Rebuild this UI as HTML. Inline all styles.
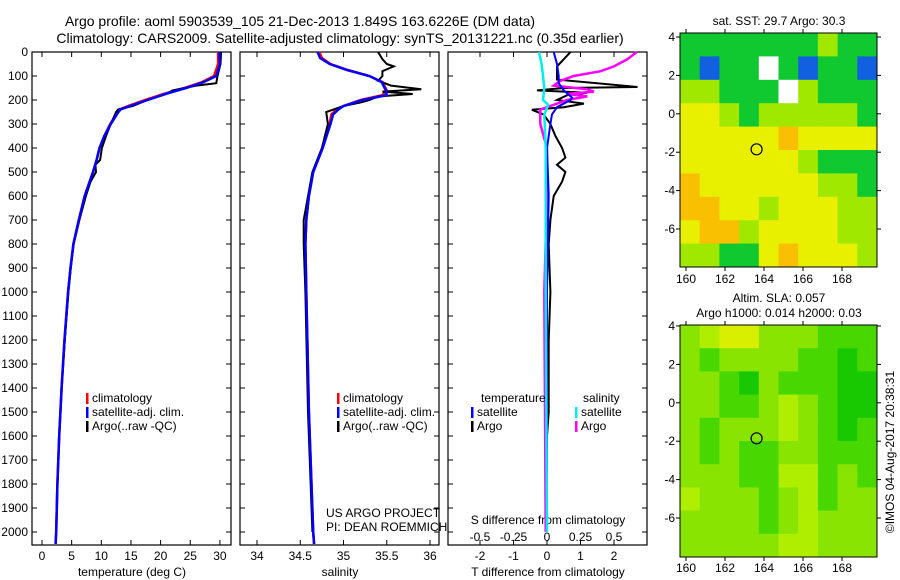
<!DOCTYPE html>
<html><head><meta charset="utf-8">
<style>
body{margin:0;background:#fff;}
svg{display:block;font-family:"Liberation Sans",sans-serif;}
text{font-size:12px;fill:#000;}
</style></head>
<body>
<svg id="c" width="900" height="580" xmlns="http://www.w3.org/2000/svg">
<text x="300" y="26" text-anchor="middle" style="font-size:14px">Argo profile: aoml 5903539_105 21-Dec-2013 1.849S 163.6226E (DM data)</text>
<text x="340" y="43" text-anchor="middle" style="font-size:14px">Climatology: CARS2009. Satellite-adjusted climatology: synTS_20131221.nc (0.35d earlier)</text>
<g id="g"></g>
</svg>
<script>
// ---- data ----
const depthTicks=[0,100,200,300,400,500,600,700,800,900,1000,1100,1200,1300,1400,1500,1600,1700,1800,1900,2000];
const tempTicks=[0,5,10,15,20,25,30];
const salTicks=[34,34.5,35,35.5,36];
const tdTicks=[-2,-1,0,1,2];
const sdTicks=[-0.5,-0.25,0,0.25,0.5];
const tClimD=[0,50,100,125,150,175,200,225,240,250,300,350,400,450,500,600,700,800,900,1000,1200,1400,1600,1800,2000,2050];
const tClim=[29.7,29.7,29,27,24,20.5,17.4,14.5,13,12.8,11.5,10.5,9.7,9.2,8.6,7.2,6.2,5.3,4.8,4.4,3.8,3.3,2.9,2.6,2.4,2.3];
const tSat=[29.9,30,29.4,27.3,24.3,20.8,17.8,14.8,13.2,12.9,11.6,10.5,9.7,9.2,8.6,7.2,6.2,5.3,4.8,4.4,3.8,3.3,2.9,2.6,2.4,2.3];
const tArgoD=[0,50,100,130,140,160,175,200,225,240,250,300,350,400,450,470,500,540,600,700,800,900,1000,1200,1400,1600,1800,2000];
const tArgo=[30.2,30.1,29.6,29.4,26,22,21,17.8,15.3,12.8,12.5,11.6,10.8,10.1,9.8,9,9.1,8.2,7.4,6.3,5.35,4.85,4.45,3.85,3.3,2.9,2.6,2.4];
const sClimD=[0,25,50,75,100,125,160,180,200,225,240,260,300,400,500,600,700,800,1000,1500,2000,2050];
const sClim=[34.72,34.75,34.85,35.05,35.3,35.45,35.5,35.45,35.2,35.0,34.92,34.86,34.84,34.76,34.65,34.6,34.57,34.56,34.57,34.6,34.65,34.66];
const sSat=[34.7,34.73,34.84,35.04,35.3,35.44,35.49,35.5,35.22,35.0,34.94,34.88,34.85,34.76,34.65,34.6,34.57,34.56,34.57,34.6,34.65,34.66];
const sArgoD=[0,30,50,60,80,100,120,140,155,165,175,185,200,210,225,250,300,400,500,700,800,1000,1500,2000];
const sArgo=[35.4,35.45,35.5,35.58,35.45,35.45,35.4,35.55,35.9,35.45,35.8,35.4,35.3,35.2,35.0,34.8,34.82,34.75,34.64,34.54,34.54,34.56,34.59,34.64];
const tdSatD=[0,50,100,130,160,190,200,230,260,300,400,600,1000,2000];
const tdSat=[0.2,0.3,0.35,0.35,0.5,0.75,0.7,0.3,0.15,0.1,0.0,0.05,0.0,0.0];
const tdArgoD=[0,30,60,100,115,130,146,150,160,170,180,200,215,230,241,260,300,350,400,440,470,500,540,600,700,800,1000,1200,1500,1600,2000];
const tdArgo=[0.7,0.5,0.3,0.3,0.3,1.5,2.7,0.5,-0.3,1.2,0.6,0.3,1.1,0.5,-0.45,-0.1,0.1,0.25,0.45,0.55,0.3,0.55,0.45,0.2,0.1,0.05,0.1,0.05,0.05,0.0,0.0];
const sdSatD=[0,50,100,150,200,220,260,400,1000,2000];
const sdSat=[-0.06,-0.04,-0.03,-0.02,-0.03,0.01,-0.02,-0.01,-0.01,0.0];
const sdArgoD=[0,30,60,80,100,120,140,155,165,175,185,200,220,240,300,400,600,1000,2000];
const sdArgo=[0.67,0.6,0.5,0.4,0.2,0.1,0.05,0.3,0.35,0.15,0.3,0.15,0.05,-0.05,-0.05,0.0,0.0,-0.02,-0.01];
const lonTicks=[160,162,164,166,168];
const latTicks=[4,2,0,-2,-4,-6];
const sstGrid=[
[1,1,1,1,1,1,1,2,1,1],
[1,0,1,1,-1,1,0,1,1,0],
[2,2,1,1,1,-1,2,1,1,1],
[3,3,2,1,2,2,2,2,2,1],
[3,3,3,3,3,4,3,3,3,3],
[3,3,3,3,3,3,2,1,1,1],
[4,3,3,3,3,3,3,2,2,1],
[4,4,3,3,2,3,3,3,2,2],
[3,4,4,2,3,3,3,3,2,2],
[2,2,1,1,3,4,3,3,3,2]];
const slaGrid=[
[2,3,4,4,2,2,2,1,1,1],
[2,1,2,2,2,2,1,1,0,1],
[2,2,1,0,2,1,1,1,0,0],
[2,2,1,1,2,3,2,1,0,0],
[2,1,2,2,2,3,2,1,0,1],
[2,1,2,1,1,2,2,1,1,1],
[2,2,2,1,1,3,3,1,2,1],
[3,2,2,2,1,2,3,1,2,2],
[2,2,2,2,1,2,3,2,2,2],
[2,2,2,2,2,3,3,2,2,2]];
const argoLon=163.62, argoLat=-1.85;
// ---- drawing ----
const NS='http://www.w3.org/2000/svg', G=document.getElementById('g');
function el(t,a,p){const e=document.createElementNS(NS,t);for(const k in a)e.setAttribute(k,a[k]);(p||G).appendChild(e);return e;}
function txt(x,y,s,anchor,p){const e=el('text',{x:x,y:y,'text-anchor':anchor||'start'},p);e.textContent=s;return e;}
const Y=d=>52+d*0.24;
const TOP=52,BOT=545;
function frame(x0,x1,name){
 const r=el('rect',{x:x0,y:TOP,width:x1-x0,height:BOT-TOP,fill:'none',stroke:'#000','stroke-width':1.2});
 
 
 depthTicks.forEach(d=>{el('line',{x1:x0,x2:x0+5,y1:Y(d),y2:Y(d),stroke:'#000'});el('line',{x1:x1-5,x2:x1,y1:Y(d),y2:Y(d),stroke:'#000'});});
}
function xt(x0,vals,fx,labels,ly){vals.forEach(v=>{const x=fx(v);el('line',{x1:x,x2:x,y1:BOT-5,y2:BOT,stroke:'#000'});el('line',{x1:x,x2:x,y1:TOP,y2:TOP+5,stroke:'#000'});if(labels){const t=txt(x,ly,String(v),'middle');}});}
function line(D,V,fx,col,w,name){const pts=D.map((d,i)=>fx(V[i]).toFixed(1)+','+Y(d).toFixed(1)).join(' ');const p=el('polyline',{points:pts,fill:'none',stroke:col,'stroke-width':w||2});}
depthTicks.forEach(d=>{const t=txt(28,Y(d)+4,String(d),'end');});
// panel 1
const fT=v=>42+v*5.93;
frame(32,231,'temperature-panel');
xt(32,tempTicks,fT,true,560);
txt(132,576,'temperature (deg C)','middle');
line(tClimD,tClim,fT,'#f00',2.5,'temp-climatology-line');
line(tArgoD,tArgo,fT,'#000',2,'temp-argo-line');
line(tClimD,tSat,fT,'#00f',2.5,'temp-satellite-line');
function legend(x,y,items,name){items.forEach((it,i)=>{const r=el('rect',{x:x,y:y+i*14-9,width:2.5,height:11,fill:it[1]});const t=txt(x+6,y+i*14,it[0]);});}
legend(86,402,[['climatology','#f00'],['satellite-adj. clim.','#00f'],['Argo(..raw -QC)','#000']],'temp-legend');
// panel 2
const fS=v=>257+(v-34)*86.5;
frame(240,439,'salinity-panel');
xt(240,salTicks,fS,true,560);
txt(340,576,'salinity','middle');
line(sClimD,sClim,fS,'#f00',2.5,'sal-climatology-line');
line(sArgoD,sArgo,fS,'#000',2,'sal-argo-line');
line(sClimD,sSat,fS,'#00f',2.5,'sal-satellite-line');
legend(337,402,[['climatology','#f00'],['satellite-adj. clim.','#00f'],['Argo(..raw -QC)','#000']],'sal-legend');
txt(326,517,'US ARGO PROJECT');txt(326,531,'PI: DEAN ROEMMICH');
// panel 3
const fTD=v=>547+v*33.5, fSD=v=>547+v*134;
frame(448,647,'difference-panel');
xt(448,tdTicks,fTD,true,560);
sdTicks.forEach(v=>{const t=txt(fSD(v),541,String(v),'middle');});
txt(548,524,'S difference from climatology','middle');
txt(548,576,'T difference from climatology','middle');
line(tdArgoD,tdArgo,fTD,'#000',2,'tdiff-argo-line');
line(sdArgoD,sdArgo,fSD,'#f0f',2.5,'sdiff-argo-line');
line(tdSatD,tdSat,fTD,'#00f',2,'tdiff-satellite-line');
line(sdSatD,sdSat,fSD,'#0ee',2.5,'sdiff-satellite-line');
txt(481,402,'temperature');txt(583,402,'salinity');
legend(471,416,[['satellite','#00f'],['Argo','#000']],'tdiff-legend');
legend(575,416,[['satellite','#0ee'],['Argo','#f0f']],'sdiff-legend');
// maps
function map(y0,y1,grid,cols,lat4,name,lonLabelY){
 const x0=680,x1=877,nr=grid.length,nc=grid[0].length,cw=(x1-x0)/nc,ch=(y1-y0)/nr;
 grid.forEach((row,r)=>row.forEach((v,c)=>{const e=el('rect',{x:x0+c*cw,y:y0+r*ch,width:cw+0.5,height:ch+0.5,fill:v<0?'#fff':cols[v]});}));
 const fx=l=>686+(l-160)*19.5, fy=l=>lat4+(4-l)*19.2;
 const b=el('rect',{x:x0,y:y0,width:x1-x0,height:y1-y0,fill:'none',stroke:'#000'});
 
 lonTicks.forEach(l=>{el('line',{x1:fx(l),x2:fx(l),y1:y0,y2:y0-4,stroke:'#000'});el('line',{x1:fx(l),x2:fx(l),y1:y1,y2:y1+4,stroke:'#000'});txt(fx(l),lonLabelY,String(l),'middle');});
 latTicks.forEach(l=>{el('line',{x1:x0,x2:x0-4,y1:fy(l),y2:fy(l),stroke:'#000'});el('line',{x1:x1,x2:x1+4,y1:fy(l),y2:fy(l),stroke:'#000'});txt(675,fy(l)+4,String(l),'end');});
 const c=el('circle',{cx:fx(argoLon),cy:fy(argoLat),r:5.5,fill:'none',stroke:'#000','stroke-width':1.2});
 
}
map(33,267,sstGrid,['#1060e0','#10c830','#a0e800','#e8f000','#f8c000'],37,'sst-map',283);
map(325,557,slaGrid,['#18c800','#48d800','#88e400','#b0ee00','#d8f000'],326,'sla-map',572);
txt(779,25,'sat. SST: 29.7 Argo: 30.3','middle');
txt(779,302,'Altim. SLA: 0.057','middle');
txt(779,317,'Argo h1000: 0.014 h2000: 0.03','middle');
const v=txt(0,0,'©IMOS 04-Aug-2017 20:38:31','middle');v.setAttribute('transform','translate(894,452) rotate(-90)');

</script>
</body></html>
